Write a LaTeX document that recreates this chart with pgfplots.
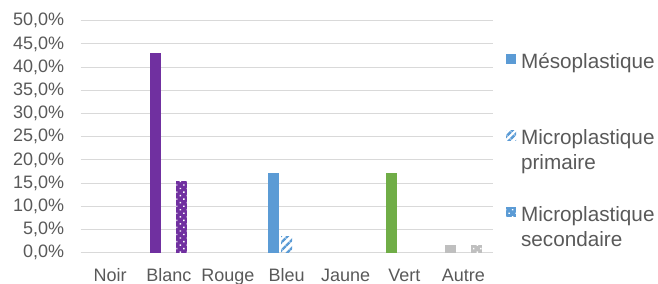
\documentclass[border=0pt]{standalone}
\usepackage{fontspec}
\setmainfont{Liberation Sans}
\usepackage{pgfplots}
\pgfplotsset{compat=1.18}
\usetikzlibrary{patterns,patterns.meta}
\definecolor{cPurple}{HTML}{7030A0}
\definecolor{cBlue}{HTML}{5B9BD5}
\definecolor{cGreen}{HTML}{70AD47}
\definecolor{cGray}{HTML}{BFBFBF}
\definecolor{cText}{HTML}{595959}
\definecolor{cGrid}{HTML}{D9D9D9}
\begin{document}
\begin{tikzpicture}
\path[use as bounding box] (0,0) rectangle (658bp,284bp);
\begin{axis}[
  scale only axis, width=412bp, height=232bp,
  at={(80.7bp,31.3bp)}, anchor=south west,
  xmin=-0.5, xmax=6.5, ymin=0, ymax=50,
  axis line style={draw=none},
  major tick length=0pt,
  ymajorgrids, grid style={color=cGrid, line width=1bp},
  ytick={0,5,...,50},
  yticklabels={{0,0\%},{5,0\%},{10,0\%},{15,0\%},{20,0\%},{25,0\%},{30,0\%},{35,0\%},{40,0\%},{45,0\%},{50,0\%}},
  xtick={0,...,6},
  xticklabels={Noir,Blanc,Rouge,Bleu,Jaune,Vert,Autre},
  tick label style={font=\fontsize{18bp}{21bp}\selectfont, text=cText},
  yticklabel shift=13bp,
  xticklabel shift=12.5bp,
  legend image code/.code={\path[#1] (0bp,9.6bp) rectangle (10bp,19.6bp);},
  legend cell align=left,
  legend style={draw=none, fill=none, at={(1.032,0.862)}, anchor=north west,
    font=\fontsize{20.7bp}{25bp}\selectfont, text=cText,
    cells={align=left}, nodes={inner sep=0pt}, column sep=5bp, row sep=35bp, inner sep=0pt},
]
% Mesoplastique
\addplot[ybar, bar width=11bp, bar shift=-13bp, fill=cPurple, draw=none, forget plot] coordinates {(1,43.0)};
\addplot[ybar, bar width=11bp, bar shift=-13bp, fill=cBlue, draw=none, forget plot] coordinates {(3,17.2)};
\addplot[ybar, bar width=11bp, bar shift=-13bp, fill=cGreen, draw=none, forget plot] coordinates {(5,17.2)};
\addplot[ybar, bar width=11bp, bar shift=-13bp, fill=cGray, draw=none, forget plot] coordinates {(6,1.7)};
% Microplastique primaire
\addplot[ybar, bar width=11bp, bar shift=0bp, draw=none, pattern={Lines[angle=45,distance=6bp,line width=3bp]}, pattern color=cBlue, forget plot] coordinates {(3,3.4)};
% Microplastique secondaire
\addplot[ybar, bar width=11bp, bar shift=13bp, fill=cPurple, draw=none, postaction={pattern={Dots[distance=5bp,angle=45,radius=1bp]}, pattern color=white}, forget plot] coordinates {(1,15.5)};
\addplot[ybar, bar width=11bp, bar shift=13bp, fill=cGray, draw=none, postaction={pattern={Dots[distance=5bp,angle=45,radius=1bp]}, pattern color=white}, forget plot] coordinates {(6,1.7)};
% legend
\addlegendimage{fill=cBlue, draw=none}
\addlegendentry{Mésoplastique\\\vphantom{p}}
\addlegendimage{draw=none, pattern={Lines[angle=45,distance=6bp,line width=3bp]}, pattern color=cBlue}
\addlegendentry{Microplastique\\primaire}
\addlegendimage{fill=cBlue, draw=none, postaction={pattern={Dots[distance=5bp,angle=45,radius=1bp]}, pattern color=white}}
\addlegendentry{Microplastique\\secondaire}
\end{axis}
\end{tikzpicture}
\end{document}
